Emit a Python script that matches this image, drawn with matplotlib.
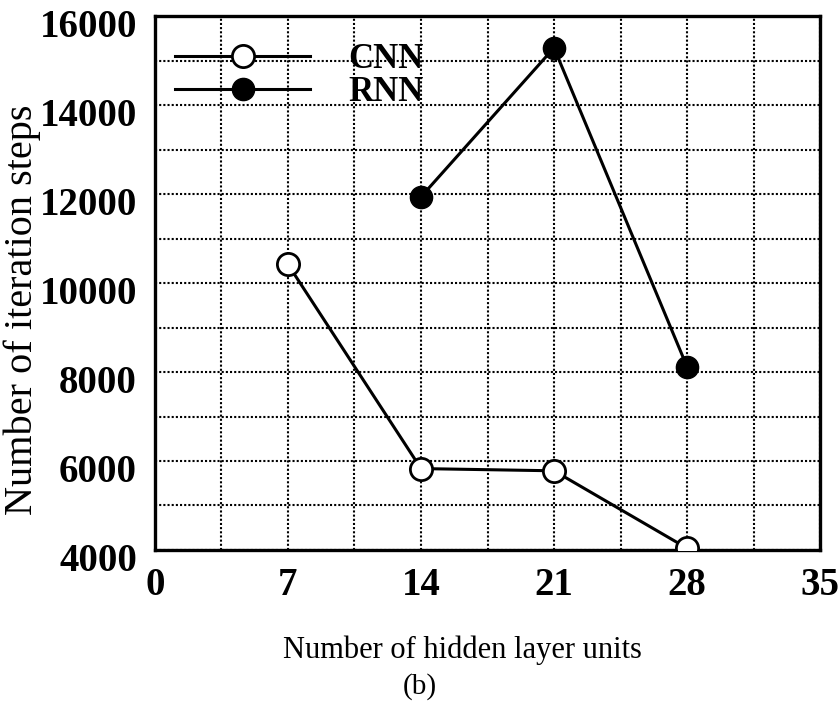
import matplotlib
matplotlib.use("Agg")
import matplotlib.pyplot as plt
from matplotlib.ticker import MultipleLocator
from matplotlib.transforms import ScaledTranslation

plt.rcParams["font.family"] = ["Liberation Serif", "DejaVu Serif"]

hidden_units = [7, 14, 21, 28]
cnn_steps = [10420, 5830, 5780, 4040]
rnn_units = [14, 21, 28]
rnn_steps = [11940, 15290, 8120]

x_ticks = [0, 7, 14, 21, 28, 35]
y_ticks = [4000, 6000, 8000, 10000, 12000, 14000, 16000]

fig = plt.figure(figsize=(8.39, 7.06), dpi=100)
ax = fig.add_axes([0.1847, 0.221, 0.7927, 0.756])

ax.plot(hidden_units, cnn_steps, color="black", lw=2.2, marker="o", ms=16,
        mfc="white", mec="black", mew=2.0, label="CNN", zorder=3)
ax.plot(rnn_units, rnn_steps, color="black", lw=2.2, marker="o", ms=16,
        mfc="black", mec="black", label="RNN", zorder=3)

ax.set_xlim(0, 35)
ax.set_ylim(4000, 16000)
ax.set_xticks(x_ticks)
ax.set_yticks(y_ticks)
ax.xaxis.set_minor_locator(MultipleLocator(3.5))
ax.yaxis.set_minor_locator(MultipleLocator(1000))
ax.grid(which="both", color="black", ls=(0, (1, 1)), lw=1.5)
ax.tick_params(which="both", length=0)
ax.tick_params(axis="y", pad=13)
ax.tick_params(axis="x", pad=12)
shift = ScaledTranslation(0, -5 / 72, fig.dpi_scale_trans)
for lab in ax.get_xticklabels() + ax.get_yticklabels():
    lab.set_fontsize(28)
    lab.set_fontweight("bold")
for lab in ax.get_yticklabels():
    lab.set_transform(lab.get_transform() + shift)
for sp in ax.spines.values():
    sp.set_linewidth(2.4)

ax.set_ylabel("Number of iteration steps", fontsize=29, va="center")
ax.yaxis.set_label_coords(-0.2, 0.45)
ax.set_xlabel("Number of hidden layer units", fontsize=22, va="center")
ax.xaxis.set_label_coords(0.462, -0.188)
fig.text(0.5, 0.027, "(b)", fontsize=21, ha="center", va="center")

ax.legend(loc="upper left", bbox_to_anchor=(0.03, 0.95), frameon=False,
          prop={"size": 25, "weight": "bold"}, handlelength=3.9,
          handletextpad=1.1, labelspacing=0.0, borderpad=0, borderaxespad=0)

fig.savefig("out.png", dpi=100)
